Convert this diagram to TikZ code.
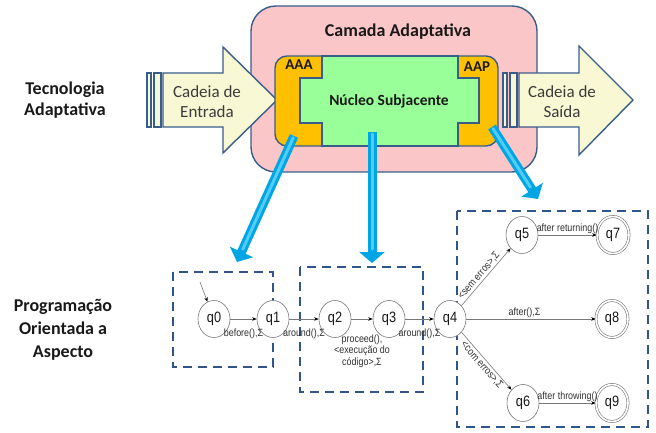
\documentclass[tikz,border=0pt]{standalone}
\usepackage{fontspec}
\setmainfont{Carlito}
\newfontfamily\autfont[FakeStretch=0.85]{Liberation Sans}
\usetikzlibrary{arrows.meta,shapes.geometric}

\definecolor{outl}{RGB}{56,93,138}
\definecolor{pinkfill}{RGB}{250,198,200}
\definecolor{orangefill}{RGB}{255,192,0}
\definecolor{greenfill}{RGB}{153,255,153}
\definecolor{creamfill}{RGB}{249,248,212}
\definecolor{cyanarrow}{RGB}{0,165,228}
\definecolor{cyanlight}{RGB}{80,205,250}
\definecolor{dashblue}{RGB}{47,85,140}
\definecolor{txt}{RGB}{25,25,25}
\definecolor{statecol}{RGB}{120,120,120}

\tikzset{
  shapeline/.style={draw=outl, line width=1.4pt},
  layerbox/.style={shapeline, fill=pinkfill, rounded corners=25pt, inner sep=0pt},
  adapter/.style={shapeline, fill=orangefill, rounded corners=12pt, inner sep=0pt},
  streamarrow/.style={shapeline, fill=creamfill, line join=miter},
  bigbold/.style={font=\bfseries\fontsize{18}{21}\selectfont, text=txt, align=center},
  midbold/.style={font=\bfseries\fontsize{15}{18}\selectfont, text=txt, align=center},
  streamtext/.style={font=\fontsize{17}{20}\selectfont, text=txt!85, align=center},
  mapsto/.style={line width=9pt, draw=cyanarrow, -{Triangle[width=25pt,length=11pt]}},
  mapshine/.style={line width=3pt, draw=cyanlight, line cap=round},
  aspectbox/.style={draw=dashblue, line width=2.2pt, dash pattern=on 9pt off 6pt},
  state/.style={ellipse, draw=statecol, line width=0.6pt, fill=white, minimum width=32pt,
    minimum height=37pt, inner sep=0pt, font=\autfont\fontsize{15}{15}\selectfont, text=txt},
  accept/.style={state, double=white, double distance=1.6pt},
  trans/.style={draw=statecol, line width=0.6pt, -{Stealth[length=4.5pt,width=3.5pt,black]}},
  tlabel/.style={font=\autfont\fontsize{10.5}{11.5}\selectfont, text=txt!90, inner sep=0.5pt, align=center}
}

\begin{document}
\begin{tikzpicture}[x=1pt,y=-1pt]
\useasboundingbox (0,0) rectangle (656,433);

% adaptive layer
\node[layerbox, minimum width=286pt, minimum height=166pt] (layer) at (394,89) {};
\node[bigbold] (layertitle) at (398,32) {Camada Adaptativa};

% input string arrow
\draw[streamarrow] (147,73) rectangle (151,127);
\draw[streamarrow] (154,73) rectangle (161,127);
\draw[streamarrow] (163,73) -- (223,73) -- (223,47) -- (277,100) -- (223,153) -- (223,127) -- (163,127) -- cycle;
\node[streamtext] (input) at (207,102) {Cadeia de\\Entrada};

% output string arrow
\draw[streamarrow] (503,73) rectangle (507,127);
\draw[streamarrow] (510,73) rectangle (517,127);
\draw[streamarrow] (519,73) -- (579,73) -- (579,46) -- (633,100) -- (579,155) -- (579,127) -- (519,127) -- cycle;
\node[streamtext] (output) at (562,102) {Cadeia de\\Saída};

% adaptive functions around the underlying core
\node[adapter, minimum width=223pt, minimum height=90pt] (adapt) at (386.5,101) {};
\draw[shapeline, fill=greenfill, line join=miter]
  (322,56) -- (458,56) -- (458,78) -- (479,78) -- (479,123) -- (458,123) -- (458,146)
  -- (322,146) -- (322,123) -- (300,123) -- (300,78) -- (322,78) -- cycle;
\node[midbold] (aaa) at (299,65) {AAA};
\node[midbold] (aap) at (477,67) {AAP};
\node[midbold, font=\bfseries\fontsize{15.5}{18}\selectfont] (core) at (389,101) {Núcleo Subjacente};

% side labels
\node[bigbold] (tech) at (65,100) {Tecnologia\\Adaptativa};
\node[bigbold, font=\bfseries\fontsize{18}{23}\selectfont] (aop) at (63,330) {Programação\\Orientada a\\Aspecto};

% aspect groups
\draw[aspectbox] (173,272) rectangle (273,367);
\draw[aspectbox] (300,267) rectangle (423,392);
\draw[aspectbox] (457,211) rectangle (648,427);

% automaton
\node[state] (q0) at (214,319) {q0};
\node[state] (q1) at (273,319) {q1};
\node[state] (q2) at (335,319) {q2};
\node[state] (q3) at (389,319) {q3};
\node[state] (q4) at (450,319) {q4};
\node[state] (q5) at (522,235) {q5};
\node[state] (q6) at (523,403) {q6};
\node[accept] (q7) at (613,235) {q7};
\node[accept] (q8) at (612,319) {q8};
\node[accept] (q9) at (612,403) {q9};
\coordinate (start) at (200,282);

\draw[trans] (start) -- (q0);
\draw[trans] (q0) -- (q1) node[tlabel, midway, below=9pt] {before(),Σ};
\draw[trans] (q1) -- (q2) node[tlabel, midway, below=9pt] {around(),Σ};
\draw[trans] (q2) -- (q3) node[tlabel, midway, below=15pt] {proceed(),\\<execução do\\código>,Σ};
\draw[trans] (q3) -- (q4) node[tlabel, midway, below=9pt] {around(),Σ};
\draw[trans] (q4) -- (q5) node[tlabel, pos=0.45, above=1pt, sloped] {<sem erros>,Σ};
\draw[trans] (q4) -- (q6) node[tlabel, pos=0.5, below=1pt, sloped] {<com erros>,Σ};
\draw[trans] (q4) -- (q8) node[tlabel, pos=0.45, above=1pt] {after(),Σ};
\draw[trans] (q5) -- (q7) node[tlabel, midway, above=1pt] {after returning()};
\draw[trans] (q6) -- (q9) node[tlabel, midway, above=1pt] {after throwing()};

% mappings from the adaptive layer to the aspect groups
\coordinate (m1s) at (294,136); \coordinate (m1e) at (237,262);
\coordinate (m2s) at (372,132); \coordinate (m2e) at (372,263);
\coordinate (m3s) at (492,127); \coordinate (m3e) at (538,199);
\draw[mapsto] (m1s) -- (m1e);
\draw[mapsto] (m2s) -- (m2e);
\draw[mapsto] (m3s) -- (m3e);
\draw[mapshine, shorten >=14pt, shorten <=2pt] (m1s) -- (m1e);
\draw[mapshine, shorten >=14pt, shorten <=2pt] (m2s) -- (m2e);
\draw[mapshine, shorten >=14pt, shorten <=2pt] (m3s) -- (m3e);
\end{tikzpicture}
\end{document}
